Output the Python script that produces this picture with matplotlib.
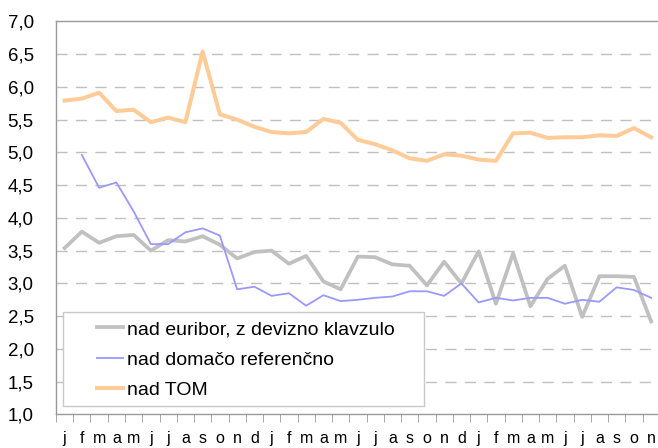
import numpy as np
import matplotlib.pyplot as plt
from matplotlib.patches import Rectangle

months = list("jfmamjjasond") * 2 + list("jfmamjjason")

euribor = [3.54, 3.79, 3.62, 3.72, 3.74, 3.50, 3.66, 3.64, 3.72, 3.59, 3.38, 3.48,
           3.50, 3.30, 3.42, 3.03, 2.91, 3.41, 3.40, 3.29, 3.27, 2.97, 3.33, 3.00,
           3.49, 2.69, 3.46, 2.65, 3.07, 3.27, 2.49, 3.11, 3.11, 3.10, 2.42]
domace = [np.nan, 4.96, 4.46, 4.54, 4.10, 3.60, 3.60, 3.78, 3.84, 3.73, 2.91, 2.95,
          2.81, 2.85, 2.66, 2.82, 2.73, 2.75, 2.78, 2.80, 2.88, 2.88, 2.81, 3.00,
          2.71, 2.78, 2.74, 2.78, 2.78, 2.69, 2.75, 2.72, 2.94, 2.90, 2.78]
tom = [5.79, 5.82, 5.91, 5.63, 5.65, 5.46, 5.53, 5.46, 6.54, 5.58, 5.50, 5.39,
       5.31, 5.29, 5.31, 5.51, 5.45, 5.19, 5.125, 5.03, 4.91, 4.87, 4.97, 4.95,
       4.89, 4.87, 5.29, 5.30, 5.22, 5.23, 5.23, 5.26, 5.25, 5.37, 5.23]

labels = ["nad euribor, z devizno klavzulo", "nad domačo referenčno", "nad TOM"]

plt.rcParams['font.family'] = ['Liberation Sans', 'DejaVu Sans']

fig = plt.figure(figsize=(6.58, 4.48), dpi=100)
ax = fig.add_axes([0.0851, 0.0748, 0.9176, 0.8777])

x = np.arange(len(months))
ax.plot(x, euribor, color='#c0c0c0', lw=2.7, label=labels[0])
ax.plot(x, domace, color='#9999ff', lw=1.3, label=labels[1])
ax.plot(x, tom, color='#ffcc99', lw=2.9, label=labels[2])

ax.set_xlim(-0.5, len(months) - 0.5)
ax.set_ylim(1.0, 7.0)
yt = np.arange(1.0, 7.01, 0.5)
ax.set_yticks(yt)
ax.set_yticklabels([f"{v:.1f}".replace('.', ',') for v in yt], fontsize=13.5)
ax.tick_params(axis='y', length=0, pad=16)

ax.set_xticks(x)
ax.set_xticklabels(months, fontsize=11.5, family=['Liberation Sans Narrow', 'Liberation Sans'])
ax.set_xticks(np.arange(-0.5, len(months)), minor=True)
ax.tick_params(axis='x', which='major', length=0, pad=12)
ax.tick_params(axis='x', which='minor', length=6, color='#999999', direction='out')

for v in yt[1:-1]:
    ax.axhline(v, color='#c0c0c0', lw=1, dashes=(8, 6), zorder=0)

for s in ax.spines.values():
    s.set_color('#999999')
    s.set_linewidth(1)

# legend frame drawn separately (Excel-style padding)
ax.add_patch(Rectangle((0.011, 0.0216), 0.599, 0.2398, transform=ax.transAxes,
                       facecolor='white', edgecolor='#c8c8c8', lw=1, zorder=3))
leg = ax.legend(loc='upper left', bbox_to_anchor=(0.0679, 0.2388), frameon=False,
                borderpad=0, borderaxespad=0, handlelength=1.35, handletextpad=0.2,
                labelspacing=0.66, fontsize=14)
leg.set_zorder(4)

fig.savefig('out.png', dpi=100)
